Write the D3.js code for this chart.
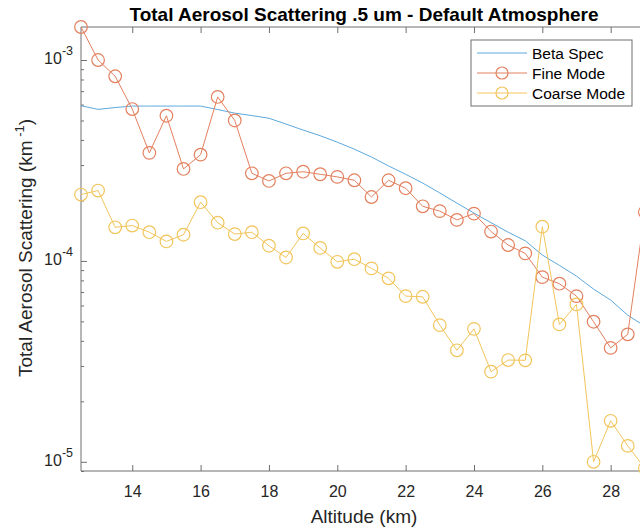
<!DOCTYPE html>
<html>
<head>
<meta charset="utf-8">
<script src="https://cdn.jsdelivr.net/npm/d3@7"></script>
<style>
  body { margin: 0; background: #fff; }
  svg { display: block; font-family: "Liberation Sans", Arial, sans-serif; }
  .tick-label { fill: #262626; font-size: 16px; }
</style>
</head>
<body>
<div id="chart"></div>
<script>
// DATA
const altitude = [12.5, 13, 13.5, 14, 14.5, 15, 15.5, 16, 16.5, 17, 17.5, 18, 18.5, 19, 19.5, 20,
                  20.5, 21, 21.5, 22, 22.5, 23, 23.5, 24, 24.5, 25, 25.5, 26, 26.5, 27, 27.5, 28, 28.5, 29];
const betaSpec = [5.92e-4, 5.68e-4, 5.80e-4, 5.90e-4, 5.90e-4, 5.90e-4, 5.90e-4, 5.90e-4, 5.67e-4, 5.44e-4,
                  5.29e-4, 5.13e-4, 4.80e-4, 4.48e-4, 4.20e-4, 3.90e-4, 3.60e-4, 3.29e-4, 2.97e-4, 2.70e-4,
                  2.44e-4, 2.18e-4, 1.94e-4, 1.73e-4, 1.55e-4, 1.39e-4, 1.26e-4, 1.07e-4, 9.5e-5, 8.4e-5,
                  7.24e-5, 6.38e-5, 5.37e-5, 4.73e-5];
const fineMode = [1.46e-3, 1.0e-3, 8.3e-4, 5.7e-4, 3.45e-4, 5.28e-4, 2.87e-4, 3.38e-4, 6.55e-4, 5.0e-4,
                  2.73e-4, 2.5e-4, 2.73e-4, 2.78e-4, 2.7e-4, 2.62e-4, 2.52e-4, 2.08e-4, 2.52e-4, 2.3e-4,
                  1.87e-4, 1.77e-4, 1.6e-4, 1.72e-4, 1.4e-4, 1.2e-4, 1.09e-4, 8.3e-5, 7.7e-5, 6.68e-5,
                  4.98e-5, 3.69e-5, 4.31e-5, 1.75e-4];
const coarseMode = [2.14e-4, 2.24e-4, 1.47e-4, 1.50e-4, 1.39e-4, 1.25e-4, 1.35e-4, 1.96e-4, 1.55e-4, 1.36e-4,
                    1.39e-4, 1.19e-4, 1.04e-4, 1.37e-4, 1.16e-4, 9.9e-5, 1.02e-4, 9.18e-5, 8.19e-5, 6.68e-5,
                    6.63e-5, 4.79e-5, 3.59e-5, 4.59e-5, 2.81e-5, 3.21e-5, 3.2e-5, 1.48e-4, 4.83e-5, 6.07e-5,
                    1.0e-5, 1.6e-5, 1.2e-5, 9.3e-6];
const seriesNames = ["Beta Spec", "Fine Mode", "Coarse Mode"];
const xTicks = [14, 16, 18, 20, 22, 24, 26, 28];
const yTicks = [1e-5, 1e-4, 1e-3];

// 1: SVG
const fullW = 640, fullH = 529;
const margin = { top: 27, left: 81, bottom: 58 };
const plotH = fullH - margin.top - margin.bottom;
const plotW = 598; // axes run past the right edge of the picture

const svg = d3.select("#chart").append("svg")
    .attr("width", fullW)
    .attr("height", fullH);

svg.append("defs").append("clipPath").attr("id", "plotClip")
  .append("rect").attr("x", 0).attr("y", 0).attr("width", plotW).attr("height", plotH);

const g = svg.append("g").attr("transform", `translate(${margin.left},${margin.top})`);

// 2: SCALES
const x = d3.scaleLinear().domain([12.5, 30]).range([0, plotW]);
const y = d3.scaleLog().domain([9e-6, 1.46e-3]).range([plotH, 0]);

const axisColor = "#6e6e6e";

// 3: AXES (ticks point inwards, like matlab)
g.append("g")
    .attr("transform", `translate(0,${plotH})`)
    .call(d3.axisBottom(x).tickValues(xTicks).tickSize(-6).tickPadding(15).tickFormat(d3.format("d")))
    .call(a => a.select(".domain").remove());

g.append("g")
    .call(d3.axisTop(x).tickValues(xTicks).tickSize(-6).tickFormat(""))
    .call(a => a.select(".domain").remove());

// minor log ticks
const minorTicks = [];
[1e-6, 1e-5, 1e-4, 1e-3].forEach(dec => {
    for (let k = 2; k <= 9; k++) {
        const v = dec * k;
        if (v >= 9e-6 && v <= 1.46e-3) minorTicks.push(v);
    }
});
g.append("g")
    .call(d3.axisLeft(y).tickValues(minorTicks).tickSize(-3).tickFormat(""))
    .call(a => a.select(".domain").remove());

g.append("g")
    .call(d3.axisLeft(y).tickValues(yTicks).tickSize(-6).tickFormat(""))
    .call(a => a.select(".domain").remove());

g.selectAll(".tick line").attr("stroke", axisColor);
g.selectAll(".tick text").attr("class", "tick-label").attr("fill", "#262626").style("font-size", "16px")
    .style("font-family", "Liberation Sans, Arial, sans-serif");

// y tick labels with superscript exponent
yTicks.forEach(v => {
    const t = g.append("text")
        .attr("class", "tick-label")
        .attr("x", -8)
        .attr("y", y(v) + 4)
        .attr("text-anchor", "end");
    t.append("tspan").text("10");
    t.append("tspan").attr("dy", -9).style("font-size", "12.5px").text(Math.round(Math.log10(v)));
});

// axis lines (left, bottom, top)
g.append("line").attr("x1", 0).attr("x2", 0).attr("y1", 0).attr("y2", plotH).attr("stroke", axisColor);
g.append("line").attr("x1", 0).attr("x2", plotW).attr("y1", plotH).attr("y2", plotH).attr("stroke", axisColor);
g.append("line").attr("x1", 0).attr("x2", plotW).attr("y1", 0).attr("y2", 0).attr("stroke", axisColor);

// 4: LINES AND MARKERS
const colors = ["#5DA9DD", "#E3805F", "#F2C55C"];
const line = d3.line().x(d => x(d[0])).y(d => y(d[1]));

const series = [betaSpec, fineMode, coarseMode].map(vals => altitude.map((a, i) => [a, vals[i]]));

series.forEach((pts, si) => {
    g.append("path")
        .datum(pts)
        .attr("clip-path", "url(#plotClip)")
        .attr("fill", "none")
        .attr("stroke", colors[si])
        .attr("stroke-width", 1)
        .attr("d", line);

    if (si > 0) {
        g.append("g").selectAll("circle")
            .data(pts)
            .enter()
            .append("circle")
            .attr("cx", d => x(d[0]))
            .attr("cy", d => y(d[1]))
            .attr("r", 6.3)
            .attr("fill", "none")
            .attr("stroke", colors[si])
            .attr("stroke-width", 1.2);
    }
});

// 5: LEGEND
const legend = svg.append("g").attr("transform", "translate(471,40)");
legend.append("rect")
    .attr("width", 161).attr("height", 66)
    .attr("fill", "#fff").attr("stroke", axisColor).attr("stroke-width", 1);

seriesNames.forEach((name, i) => {
    const ly = 13 + i * 20;
    legend.append("line")
        .attr("x1", 6).attr("x2", 56).attr("y1", ly).attr("y2", ly)
        .attr("stroke", colors[i]).attr("stroke-width", 1);
    if (i > 0) {
        legend.append("circle").attr("cx", 31).attr("cy", ly).attr("r", 6)
            .attr("fill", "none").attr("stroke", colors[i]).attr("stroke-width", 1.2);
    }
    legend.append("text")
        .attr("x", 61).attr("y", ly + 5.5)
        .attr("fill", "#000").style("font-size", "15.5px")
        .text(name);
});

// 6: LABELS
svg.append("text")
    .attr("x", 364).attr("y", 21)
    .attr("text-anchor", "middle")
    .style("font-size", "19px").style("font-weight", "bold")
    .attr("fill", "#000")
    .text("Total Aerosol Scattering .5 um - Default Atmosphere");

svg.append("text")
    .attr("x", 364).attr("y", 523)
    .attr("text-anchor", "middle")
    .style("font-size", "19px")
    .attr("fill", "#262626")
    .text("Altitude (km)");

const yl = svg.append("text")
    .attr("transform", "translate(32,248) rotate(-90)")
    .attr("text-anchor", "middle")
    .style("font-size", "19px")
    .attr("fill", "#262626");
yl.append("tspan").text("Total Aerosol Scattering (km");
yl.append("tspan").attr("dy", -8).style("font-size", "13px").text(" -1");
yl.append("tspan").attr("dy", 8).text(")");
</script>
</body>
</html>
